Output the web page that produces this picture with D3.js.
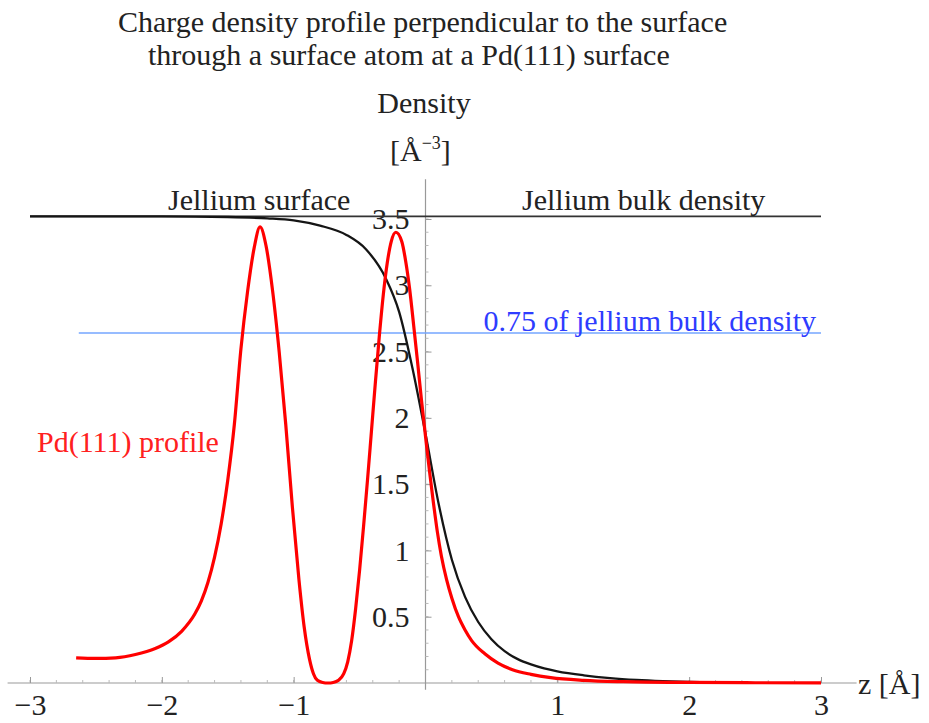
<!DOCTYPE html>
<html>
<head>
<meta charset="utf-8">
<script src="https://cdn.jsdelivr.net/npm/d3@7"></script>
<style>
  body { margin: 0; background: #fff; }
  text { font-family: "Liberation Serif", "DejaVu Serif", serif; }
</style>
</head>
<body>
<script>
// jellium bulk density and the 3/4 level
var bulkDensity = 3.52;
var fraction = 0.75;

// jellium surface profile: z [Å], density
var jelliumZ = [-3, -2, -1.5, -1.2, -1.0, -0.8, -0.6, -0.45, -0.3, -0.2, -0.1, 0, 0.1, 0.2, 0.3, 0.4, 0.5, 0.6, 0.7, 0.8, 0.9, 1.0, 1.2, 1.4, 1.6, 1.8, 2.0, 2.15];
var jelliumN = [3.52, 3.52, 3.515, 3.505, 3.49, 3.45, 3.38, 3.27, 3.05, 2.8, 2.38, 1.88, 1.35, 0.93, 0.65, 0.46, 0.33, 0.24, 0.18, 0.14, 0.11, 0.088, 0.058, 0.037, 0.023, 0.014, 0.008, 0.005];

// Pd(111) profile: z [Å], density
var pdZ = [-2.65, -2.5, -2.35, -2.2, -2.05, -1.95, -1.85, -1.75, -1.7, -1.65, -1.6, -1.55, -1.5, -1.45, -1.40, -1.35, -1.30, -1.255, -1.21, -1.16, -1.11, -1.06, -1.01, -0.96, -0.92, -0.88, -0.85, -0.82, -0.78, -0.74, -0.70, -0.66, -0.62, -0.59, -0.56, -0.53, -0.50, -0.47, -0.44, -0.41, -0.38, -0.35, -0.32, -0.29, -0.26, -0.225, -0.18, -0.15, -0.12, -0.09, -0.06, -0.03, 0.0, 0.03, 0.06, 0.09, 0.12, 0.16, 0.2, 0.25, 0.3, 0.35, 0.45, 0.55, 0.66, 0.8, 0.95, 1.2, 1.5, 2.0, 2.5, 3.0];
var pdN = [0.19, 0.185, 0.19, 0.215, 0.26, 0.31, 0.39, 0.52, 0.62, 0.76, 0.95, 1.2, 1.53, 1.95, 2.52, 2.95, 3.28, 3.44, 3.30, 2.96, 2.5, 1.95, 1.33, 0.78, 0.42, 0.18, 0.07, 0.02, 0.004, 0.0, 0.004, 0.02, 0.07, 0.16, 0.32, 0.56, 0.85, 1.18, 1.53, 1.9, 2.27, 2.62, 2.93, 3.17, 3.33, 3.40, 3.33, 3.18, 2.97, 2.7, 2.42, 2.13, 1.86, 1.6, 1.36, 1.14, 0.96, 0.78, 0.64, 0.5, 0.4, 0.32, 0.22, 0.15, 0.10, 0.065, 0.04, 0.02, 0.01, 0.004, 0.002, 0.001];

var xTicks = [-3, -2, -1, 1, 2, 3];
var yTicks = [0.5, 1, 1.5, 2, 2.5, 3, 3.5];

var width = 929, height = 723;

var svg = d3.select("body").append("svg")
    .attr("width", width)
    .attr("height", height);

var x = d3.scaleLinear().domain([-3, 3]).range([30, 821]);
var y = d3.scaleLinear().domain([0, 3.5]).range([683, 219]);

// axes lines
svg.append("line")
    .attr("x1", x(-3.17)).attr("x2", x(3.27))
    .attr("y1", y(0)).attr("y2", y(0))
    .attr("stroke", "#999").attr("stroke-width", 1.2);
svg.append("line")
    .attr("x1", x(0)).attr("x2", x(0))
    .attr("y1", y(3.8)).attr("y2", y(-0.05))
    .attr("stroke", "#999").attr("stroke-width", 1.2);

// minor ticks
svg.append("g").selectAll("line")
    .data(d3.range(-3, 3.01, 0.2).filter(function(d) { return Math.abs(d) > 0.01; }))
    .enter().append("line")
    .attr("x1", function(d) { return x(d); }).attr("x2", function(d) { return x(d); })
    .attr("y1", y(0)).attr("y2", y(0) - 3)
    .attr("stroke", "#bbb");
svg.append("g").selectAll("line")
    .data(d3.range(0.1, 3.51, 0.1))
    .enter().append("line")
    .attr("x1", x(0)).attr("x2", x(0) + 3)
    .attr("y1", function(d) { return y(d); }).attr("y2", function(d) { return y(d); })
    .attr("stroke", "#bbb");

var fmt = d3.format("");
var xAxis = svg.append("g")
    .attr("transform", "translate(0," + y(0) + ")")
    .call(d3.axisBottom(x).tickValues(xTicks).tickFormat(fmt).tickSizeInner(-6).tickSizeOuter(0).tickPadding(11));
var yAxis = svg.append("g")
    .attr("transform", "translate(" + x(0) + ",0)")
    .call(d3.axisLeft(y).tickValues(yTicks).tickFormat(fmt).tickSizeInner(-6).tickSizeOuter(0).tickPadding(16));

[xAxis, yAxis].forEach(function(a) {
  a.select(".domain").remove();
  a.selectAll(".tick line").attr("stroke", "#999");
  a.selectAll(".tick text")
      .attr("fill", "#222")
      .style("font-family", "'Liberation Serif', serif")
      .style("font-size", "30px");
});

// jellium bulk density line
svg.append("line")
    .attr("x1", x(-3)).attr("x2", x(3))
    .attr("y1", y(bulkDensity)).attr("y2", y(bulkDensity))
    .attr("stroke", "#333").attr("stroke-width", 1.8);

// 0.75 of bulk density
svg.append("line")
    .attr("x1", x(-2.63)).attr("x2", x(3))
    .attr("y1", y(fraction * bulkDensity)).attr("y2", y(fraction * bulkDensity))
    .attr("stroke", "#74a6ff").attr("stroke-width", 1.5);

var line = d3.line()
    .x(function(d) { return x(d[0]); })
    .y(function(d) { return y(d[1]); })
    .curve(d3.curveMonotoneX);

svg.append("path")
    .datum(d3.zip(jelliumZ, jelliumN))
    .attr("d", line)
    .attr("fill", "none")
    .attr("stroke", "#151515")
    .attr("stroke-width", 2.3);

svg.append("path")
    .datum(d3.zip(pdZ, pdN))
    .attr("d", line)
    .attr("fill", "none")
    .attr("stroke", "#ff0000")
    .attr("stroke-width", 3.2)
    .attr("stroke-linejoin", "round");

// labels
function label(txt, px, py, color, anchor) {
  return svg.append("text")
      .attr("x", px).attr("y", py)
      .attr("fill", color)
      .attr("text-anchor", anchor || "start")
      .style("font-size", "30px")
      .text(txt);
}

label("Charge density profile perpendicular to the surface", 118, 32, "#222");
label("through a surface atom at a Pd(111) surface", 148, 65, "#222");
label("Density", 424, 113, "#222", "middle");
var unit = label("[Å", 390, 161, "#222");
unit.append("tspan").attr("dy", -12).style("font-size", "18px").text("−3");
unit.append("tspan").attr("dy", 12).text("]");

label("Jellium surface", 168, 210, "#222");
label("Jellium bulk density", 522, 210, "#222");
label("0.75 of jellium bulk density", 816, 331, "#2e3cff", "end");
label("Pd(111) profile", 37, 452, "#ff2020");
label("z [Å]", 858, 694, "#222");
</script>
</body>
</html>
